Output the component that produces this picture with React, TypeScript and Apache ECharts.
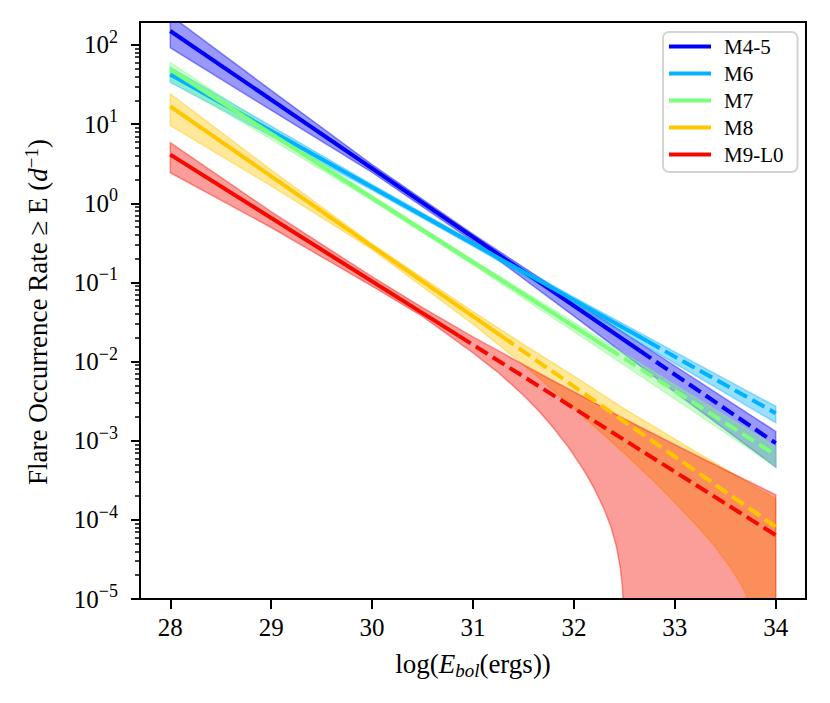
import React, { useEffect, useRef } from 'react';
import * as echarts from 'echarts';

// ---- data ----
const seriesNames = ['M4-5', 'M6', 'M7', 'M8', 'M9-L0'];
const seriesColors = ['#0000f4', '#00b2ff', '#7bff7b', '#ffc600', '#f40900'];

// fitted power laws: solid from start to break, dashed from break to end
const fitStartX = [28, 28, 28, 28, 28];
const fitBreakX = [32.65, 32.73, 32.33, 31.29, 30.86];
const fitEndX = [34, 34, 34, 34, 34];
const rateAtStart = [150, 42.4, 49.0, 16.8, 4.12];
const rateAtBreak = [0.0138, 0.018, 0.015, 0.0206, 0.0211];
const rateAtEnd = [9.3e-4, 2.23e-3, 6.6e-4, 8.2e-5, 6.4e-5];

// confidence bands
const bandXCommon = [28, 29, 30, 31, 32, 33, 34];
const m45Upper = [237, 26.7, 3.08, 0.408, 0.0593, 0.00881, 0.00131];
const m45Lower = [92.3, 15.0, 2.45, 0.332, 0.0374, 0.00412, 0.000465];
const m6Upper = [52.1, 9.42, 1.72, 0.33, 0.0653, 0.01324, 0.00272];
const m6Lower = [33.7, 7.06, 1.466, 0.287, 0.0531, 0.00948, 0.00169];
const m7Upper = [59.6, 8.59, 1.25, 0.193, 0.0312, 0.00509, 0.000843];
const m7Lower = [36.5, 6.44, 1.076, 0.166, 0.0239, 0.00337, 0.000469];

const m8BandX = [28, 29, 30, 31, 31.5, 32, 32.25, 32.5, 32.75, 33, 33.25, 33.4, 33.55, 33.65, 33.71, 33.75, 33.8, 34];
const m8Upper = [24.2, 2.64, 0.306, 0.0428, 0.01652, 0.00655, 0.00407, 0.00253, 0.00163, 0.00105, 0.000675, 0.000521, 0.000402, 0.000334, 0.000303, 0.000282, 0.000258, 0.000185];
const m8Lower = [9.59, 1.66, 0.261, 0.0296, 0.00912, 0.00257, 0.00135, 0.000692, 0.000347, 0.000166, 7.59e-5, 4.57e-5, 2.51e-5, 1.58e-5, 1.1e-5, 7.1e-6, 3e-7, 1e-9];

const m9BandX = [28, 29, 30, 30.5, 31, 31.25, 31.5, 31.65, 31.8, 31.95, 32.1, 32.2, 32.3, 32.37, 32.42, 32.46, 32.48, 32.5, 32.53, 33, 33.5, 34];
const m9Upper = [5.82, 0.783, 0.118, 0.0481, 0.0205, 0.01371, 0.00914, 0.00718, 0.00564, 0.00448, 0.00356, 0.00303, 0.00258, 0.00232, 0.00214, 0.00201, 0.00195, 0.00188, 0.0018, 0.000891, 0.000426, 0.000208];
const m9Lower = [2.43, 0.494, 0.0897, 0.0372, 0.01288, 0.00726, 0.00375, 0.00239, 0.00144, 0.000813, 0.00042, 0.000251, 0.000136, 7.94e-5, 4.68e-5, 2.45e-5, 1.45e-5, 5e-6, 1e-9, 1e-9, 1e-9, 1e-9];

const bandXs = [bandXCommon, bandXCommon, bandXCommon, m8BandX, m9BandX];
const bandUppers = [m45Upper, m6Upper, m7Upper, m8Upper, m9Upper];
const bandLowers = [m45Lower, m6Lower, m7Lower, m8Lower, m9Lower];

// axes
const xMin = 27.7;
const xMax = 34.3;
const yMin = 1e-5;
const yMax = 195;
const xTicks = [28, 29, 30, 31, 32, 33, 34];
const yTicks = [1e-5, 1e-4, 1e-3, 1e-2, 1e-1, 1, 10, 100];
const minorDecades = [1e-5, 1e-4, 1e-3, 1e-2, 1e-1, 1, 10];
const minorMantissas = [2, 3, 4, 5, 6, 7, 8, 9];

const xTitle = '{n|log(}{i|E}{s|bol}{n|(ergs))}';
const yTitle = '{n|Flare Occurrence Rate ≥ E (}{i|d}{e|−1}{n|)}';

const FONT = "'Liberation Serif', 'DejaVu Serif', serif";

function rgba(hex: string, a: number) {
  const r = parseInt(hex.slice(1, 3), 16);
  const g = parseInt(hex.slice(3, 5), 16);
  const b = parseInt(hex.slice(5, 7), 16);
  return `rgba(${r},${g},${b},${a})`;
}

export default function App() {
  const ref = useRef<HTMLDivElement>(null);
  useEffect(() => {
    if (!ref.current) return;
    const chart = echarts.init(ref.current, undefined, { renderer: 'svg' });

    const minorTicks: number[] = [];
    minorDecades.forEach((d) => minorMantissas.forEach((m) => {
      const v = m * d;
      if (v < yMax) minorTicks.push(v);
    }));

    const bandSeries = seriesNames.map((name, k) => {
      const xs = bandXs[k];
      const up = bandUppers[k];
      const lo = bandLowers[k];
      const c = seriesColors[k];
      return {
        type: 'custom',
        name: name + ' band',
        coordinateSystem: 'cartesian2d',
        xAxisIndex: 0,
        yAxisIndex: 0,
        clip: true,
        silent: true,
        z: 2,
        data: [[xs[0], lo[0]]],
        renderItem: (_params: any, api: any) => {
          const pts: number[][] = [];
          for (let i = 0; i < xs.length; i++) pts.push(api.coord([xs[i], up[i]]));
          for (let i = xs.length - 1; i >= 0; i--) pts.push(api.coord([xs[i], lo[i]]));
          return {
            type: 'polygon',
            shape: { points: pts },
            style: { fill: rgba(c, 0.4), stroke: rgba(c, 0.4), lineWidth: 1.5 },
          };
        },
      };
    });

    const solidSeries = seriesNames.map((name, k) => ({
      type: 'line',
      name,
      data: [[fitStartX[k], rateAtStart[k]], [fitBreakX[k], rateAtBreak[k]]],
      showSymbol: false,
      symbol: 'none',
      silent: true,
      z: 3,
      itemStyle: { color: seriesColors[k] },
      lineStyle: { color: seriesColors[k], width: 4 },
    }));

    const dashedSeries = seriesNames.map((name, k) => ({
      type: 'line',
      name: name + ' extrapolated',
      data: [[fitBreakX[k], rateAtBreak[k]], [fitEndX[k], rateAtEnd[k]]],
      showSymbol: false,
      symbol: 'none',
      silent: true,
      z: 3,
      itemStyle: { color: seriesColors[k] },
      lineStyle: { color: seriesColors[k], width: 4, type: [14, 6] },
    }));

    const option: any = {
      animation: false,
      textStyle: { fontFamily: FONT, color: '#000' },
      grid: {
        left: 140, right: 24, top: 22, bottom: 104,
        show: true, borderColor: '#000', borderWidth: 2, backgroundColor: 'transparent',
      },
      xAxis: {
        type: 'value', min: xMin, max: xMax, z: 10,
        axisLine: { show: true, lineStyle: { color: '#000', width: 2 } },
        axisTick: { show: true, customValues: xTicks, length: 10, lineStyle: { color: '#000', width: 2 } },
        axisLabel: { customValues: xTicks, margin: 16, fontSize: 25, fontFamily: FONT, color: '#000' },
        splitLine: { show: false },
      },
      yAxis: [
        {
          type: 'log', logBase: 10, min: yMin, max: yMax, z: 10,
          axisLine: { show: true, lineStyle: { color: '#000', width: 2 } },
          axisTick: { show: true, customValues: yTicks, length: 9, lineStyle: { color: '#000', width: 2 } },
          axisLabel: {
            customValues: yTicks,
            margin: 22,
            formatter: (v: number) => {
              const e = Math.round(Math.log10(v));
              return `{b|10}{e|${e < 0 ? '−' + -e : e}}`;
            },
            rich: {
              b: { fontSize: 25, fontFamily: FONT, color: '#000', lineHeight: 34 },
              e: { fontSize: 18, fontFamily: FONT, color: '#000', verticalAlign: 'top', lineHeight: 18 },
            },
          },
          splitLine: { show: false },
        },
        {
          type: 'log', logBase: 10, min: yMin, max: yMax, position: 'left', z: 10,
          axisLine: { show: false },
          axisTick: { show: true, customValues: minorTicks, length: 5, lineStyle: { color: '#000', width: 1.5 } },
          axisLabel: { show: false },
          splitLine: { show: false },
        },
      ],
      legend: {
        data: seriesNames,
        orient: 'vertical',
        left: 663,
        top: 32,
        icon: 'rect',
        itemWidth: 42,
        itemHeight: 4,
        itemGap: 6,
        padding: [4, 14, 7, 6],
        backgroundColor: '#fff',
        borderColor: '#d4d4d4',
        borderWidth: 2,
        borderRadius: 6,
        selectedMode: false,
        textStyle: { fontFamily: FONT, fontSize: 21, color: '#000', lineHeight: 20, padding: [0, 0, 0, 8] },
      },
      graphic: [
        {
          type: 'text', x: 473, y: 664, z: 20,
          style: {
            text: xTitle,
            align: 'center', verticalAlign: 'middle', fill: '#000',
            rich: {
              n: { fontSize: 27, fontFamily: FONT, lineHeight: 32, fill: '#000' },
              i: { fontSize: 27, fontFamily: FONT, fontStyle: 'italic', lineHeight: 32, fill: '#000' },
              s: { fontSize: 19, fontFamily: FONT, fontStyle: 'italic', verticalAlign: 'bottom', lineHeight: 19, fill: '#000' },
            },
          },
        },
        {
          type: 'text', x: 38, y: 312, rotation: Math.PI / 2, z: 20,
          style: {
            text: yTitle,
            align: 'center', verticalAlign: 'middle', fill: '#000',
            rich: {
              n: { fontSize: 27, fontFamily: FONT, lineHeight: 32, fill: '#000' },
              i: { fontSize: 27, fontFamily: FONT, fontStyle: 'italic', lineHeight: 32, fill: '#000' },
              e: { fontSize: 19, fontFamily: FONT, verticalAlign: 'top', lineHeight: 19, fill: '#000' },
            },
          },
        },
      ],
      series: [...bandSeries, ...solidSeries, ...dashedSeries],
    };

    chart.setOption(option);
    return () => chart.dispose();
  }, []);

  return <div ref={ref} style={{ position: 'absolute', left: 0, top: 0, width: 830, height: 703 }} />;
}
